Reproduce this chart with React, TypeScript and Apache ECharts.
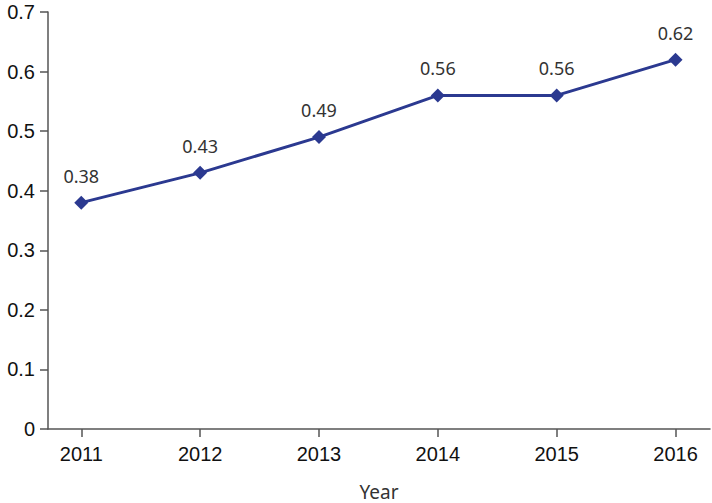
import React, { useEffect, useRef } from "react";
import * as echarts from "echarts";

const years = [2011, 2012, 2013, 2014, 2015, 2016];
const values = [0.38, 0.43, 0.49, 0.56, 0.56, 0.62];
const yTicks = [0, 0.1, 0.2, 0.3, 0.4, 0.5, 0.6, 0.7];

export default function App() {
  const ref = useRef<HTMLDivElement>(null);
  useEffect(() => {
    if (!ref.current) return;
    const chart = echarts.init(ref.current, null, { renderer: "svg" });
    const axisColor = "#555555";
    chart.setOption({
      animation: false,
      grid: { left: 48, right: 2, top: 12, bottom: 74, containLabel: false, outerBoundsMode: "none" },
      xAxis: {
        type: "value",
        min: 2010.72,
        max: 2016.29,
        name: "Year",
        nameLocation: "middle",
        nameGap: 53,
        nameTextStyle: { fontFamily: "Noto Sans", fontSize: 19, color: "#333", verticalAlign: "top" },
        axisLine: { show: true, lineStyle: { color: axisColor, width: 1.5 } },
        axisTick: { show: true, length: 8, customValues: years, lineStyle: { color: axisColor, width: 1.5 } },
        axisLabel: {
          customValues: years,
          formatter: (v: number) => String(Math.round(v)),
          fontFamily: "Liberation Sans",
          fontSize: 20,
          color: "#111",
          margin: 15,
        },
        splitLine: { show: false },
      },
      yAxis: {
        type: "value",
        min: 0,
        max: 0.7,
        interval: 0.1,
        axisLine: { show: true, lineStyle: { color: axisColor, width: 1.5 } },
        axisTick: { show: true, length: 8, lineStyle: { color: axisColor, width: 1.5 } },
        axisLabel: {
          formatter: (v: number) => {
            const r = Math.round(v * 10) / 10;
            return yTicks.includes(r) ? (r === 0 ? "0" : r.toFixed(1)) : "";
          },
          fontFamily: "Liberation Sans",
          fontSize: 20,
          color: "#111",
          margin: 13,
        },
        splitLine: { show: false },
      },
      series: [
        {
          type: "line",
          data: years.map((y, i) => [y, values[i]]),
          symbol: "diamond",
          symbolSize: 14,
          lineStyle: { color: "#2B3990", width: 3 },
          itemStyle: { color: "#2B3990" },
          label: {
            show: true,
            position: "top",
            distance: 11,
            formatter: (p: any) => p.value[1].toFixed(2),
            fontFamily: "Noto Sans",
            fontSize: 18,
            color: "#333",
          },
        },
      ],
    });
    return () => chart.dispose();
  }, []);
  return <div ref={ref} style={{ width: 712, height: 503, position: "absolute", left: 0, top: 0 }} />;
}
